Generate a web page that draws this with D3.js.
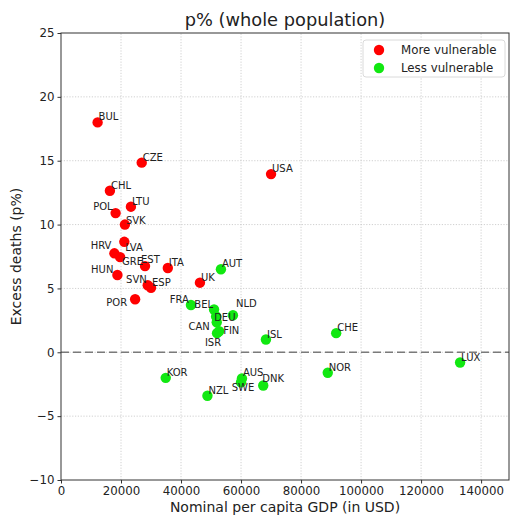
<!DOCTYPE html>
<html>
<head>
<meta charset="utf-8">
<script src="https://cdn.jsdelivr.net/npm/d3@7"></script>
<style>
    body { margin: 0; background: #fff; }
    text { font-family: "DejaVu Sans", sans-serif; fill: #222; }
</style>
</head>
<body>
<div id="excess-chart"></div>
<script>
// chart values
const countries = ['BUL','CZE','CHL','POL','LTU','SVK','LVA','HRV','GRE','EST','ITA','HUN','SVN','ESP','POR','UK','USA',
                   'AUT','FRA','BEL','NLD','DEU','CAN','FIN','ISR','ISL','CHE','LUX','KOR','NZL','AUS','SWE','DNK','NOR'];
const gdp = [12200, 26900, 16300, 18200, 23300, 21300, 21100, 17800, 19700, 28000, 35600, 18800, 28900, 30000, 24700, 46300, 70000,
             53300, 43300, 51000, 57300, 51700, 51900, 52700, 52000, 68300, 91700, 133000, 34900, 48800, 60300, 60000, 67400, 88900];
const excess = [18.0, 14.85, 12.65, 10.9, 11.4, 10.0, 8.65, 7.75, 7.45, 6.75, 6.6, 6.05, 5.25, 5.05, 4.15, 5.45, 13.95,
                6.5, 3.7, 3.35, 2.9, 2.8, 2.35, 1.65, 1.5, 1.0, 1.5, -0.8, -2.0, -3.4, -2.05, -2.35, -2.6, -1.6];
// 1 = more vulnerable, 0 = less vulnerable
const vulnerable = [1,1,1,1,1,1,1,1,1,1,1,1,1,1,1,1,1,
                    0,0,0,0,0,0,0,0,0,0,0,0,0,0,0,0,0];
const groupNames = ['More vulnerable', 'Less vulnerable'];
const xTicks = [0, 20000, 40000, 60000, 80000, 100000, 120000, 140000];
const yTicks = [-10, -5, 0, 5, 10, 15, 20, 25];

// where a label sits against its dot (pixels), default is just up-right
const labelPlace = {
    POL: [-3, -3, 'end'], HRV: [-3, -4, 'end'], LVA: [1, 9, 'start'], GRE: [2, 8, 'start'],
    EST: [-4, -3, 'start'], HUN: [-4, -2, 'end'], SVN: [-1, -2, 'end'], POR: [-8, 7, 'end'],
    FRA: [-2, -2, 'end'], BEL: [-1, -2, 'end'], DEU: [-2, 4, 'start'], NLD: [3, -8, 'start'],
    CAN: [-7, 8, 'end'], FIN: [4, 3, 'start'], ISR: [-4, 13, 'middle'], SWE: [2, 9, 'middle'],
    DNK: [-1, -3, 'start'], SVK: [1, -1, 'start']
};

drawChart();

function drawChart(){
    let width = 510, height = 518;
    let margin = {top: 33, right: 1, bottom: 38, left: 61};

    let svg = d3.select('#excess-chart').append('svg')
                .attr('width', width)
                .attr('height', height);

    // scales
    let x = d3.scaleLinear().domain([0, 149300]).range([margin.left, width - margin.right]);
    let y = d3.scaleLinear().domain([-10, 25]).range([height - margin.bottom, margin.top]);
    let color = d3.scaleOrdinal().domain([1, 0]).range(['#ff0000', '#11e811']);

    let points = countries.map(function(c, i){
        return {name: c, gdp: gdp[i], excess: excess[i], group: vulnerable[i]};
    });

    // grid
    let grid = svg.append('g').attr('stroke', '#c4c4c4').attr('stroke-width', 0.8).attr('stroke-dasharray', '1.2,1.6');
    grid.selectAll('line.vx').data(xTicks.slice(1)).enter().append('line')
        .attr('x1', d => x(d)).attr('x2', d => x(d))
        .attr('y1', y(-10)).attr('y2', y(25));
    grid.selectAll('line.hy').data(yTicks.slice(1, -1)).enter().append('line')
        .attr('x1', x.range()[0]).attr('x2', x.range()[1])
        .attr('y1', d => y(d)).attr('y2', d => y(d));

    // zero line
    svg.append('line')
        .attr('x1', x.range()[0]).attr('x2', x.range()[1])
        .attr('y1', y(0)).attr('y2', y(0))
        .attr('stroke', '#7a7a7a').attr('stroke-width', 1.6)
        .attr('stroke-dasharray', '8,4');

    // axes
    let xAxis = svg.append('g')
        .attr('transform', 'translate(0,' + y(-10) + ')')
        .call(d3.axisBottom(x).tickValues(xTicks).tickFormat(d3.format('d')).tickSize(3.5).tickPadding(3));
    let yAxis = svg.append('g')
        .attr('transform', 'translate(' + x(0) + ',0)')
        .call(d3.axisLeft(y).tickValues(yTicks).tickSize(3.5).tickPadding(3));
    [xAxis, yAxis].forEach(function(a){
        a.selectAll('text').attr('font-size', 11.8).attr('font-family', '"DejaVu Sans"').attr('fill', '#222');
        a.selectAll('line').attr('stroke', '#333');
        a.select('.domain').remove();
    });
    yAxis.selectAll('text').text(function(d){ return d < 0 ? '\u2212' + Math.abs(d) : d; });

    // frame
    svg.append('rect')
        .attr('x', x.range()[0]).attr('y', y(25))
        .attr('width', x.range()[1] - x.range()[0]).attr('height', y(-10) - y(25))
        .attr('fill', 'none').attr('stroke', '#333').attr('stroke-width', 1);

    // dots
    svg.append('g').selectAll('circle')
        .data(points).enter().append('circle')
        .attr('cx', d => x(d.gdp))
        .attr('cy', d => y(d.excess))
        .attr('r', 5.2)
        .attr('fill', d => color(d.group));

    // country labels
    svg.append('g').selectAll('text')
        .data(points).enter().append('text')
        .attr('font-size', 10)
        .attr('x', function(d){ let p = labelPlace[d.name] || [1, -2, 'start']; return x(d.gdp) + p[0]; })
        .attr('y', function(d){ let p = labelPlace[d.name] || [1, -2, 'start']; return y(d.excess) + p[1]; })
        .attr('text-anchor', function(d){ return (labelPlace[d.name] || [0, 0, 'start'])[2]; })
        .text(d => d.name);

    // title + axis titles
    svg.append('text')
        .attr('x', (x.range()[0] + x.range()[1]) / 2).attr('y', 26)
        .attr('text-anchor', 'middle').attr('font-size', 17.8)
        .text('p% (whole population)');
    svg.append('text')
        .attr('x', (x.range()[0] + x.range()[1]) / 2).attr('y', 512)
        .attr('text-anchor', 'middle').attr('font-size', 14)
        .text('Nominal per capita GDP (in USD)');
    svg.append('text')
        .attr('transform', 'translate(21,' + (y(25) + y(-10)) / 2 + ') rotate(-90)')
        .attr('text-anchor', 'middle').attr('font-size', 14)
        .text('Excess deaths (p%)');

    // legend
    let legend = svg.append('g').attr('transform', 'translate(363,40)');
    legend.append('rect')
        .attr('width', 142).attr('height', 37).attr('rx', 3)
        .attr('fill', '#fff').attr('stroke', '#d0d0d0').attr('stroke-width', 0.8);
    groupNames.forEach(function(name, i){
        legend.append('circle')
            .attr('cx', 16).attr('cy', 10 + i * 18).attr('r', 5.2)
            .attr('fill', color(1 - i));
        legend.append('text')
            .attr('x', 38).attr('y', 14 + i * 18)
            .attr('font-size', 11.8)
            .text(name);
    });
}
</script>
</body>
</html>
